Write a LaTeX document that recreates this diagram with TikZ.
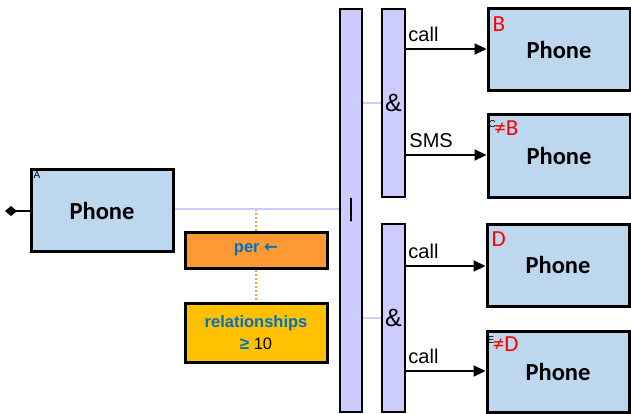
\documentclass[tikz,border=0pt]{standalone}
\usepackage{fontspec}
\setmainfont{Liberation Sans}
\newfontfamily\calfont{Carlito}
\newfontfamily\djfont{DejaVu Sans}
\usetikzlibrary{arrows.meta}
\definecolor{phonefill}{RGB}{189,215,238}
\definecolor{barfill}{RGB}{204,204,255}
\definecolor{perfill}{RGB}{255,153,51}
\definecolor{relfill}{RGB}{255,192,0}
\definecolor{txtblue}{RGB}{0,112,192}
\newcommand{\tinytag}[1]{{\rmfamily\fontsize{10}{10}\selectfont\color{black}\raisebox{8pt}{#1}}\hspace{-1.5pt}}
\tikzset{
  phonebox/.style={draw=black, line width=3pt, fill=phonefill, minimum width=142pt, minimum height=82pt, inner sep=0pt, font=\calfont\bfseries\fontsize{24.5}{26}\selectfont},
  barbox/.style={draw=black, line width=2.5pt, fill=barfill, minimum width=22pt, inner sep=0pt, font=\fontsize{25}{26}\selectfont},
  infobox/.style={draw=black, line width=3pt, minimum width=142pt, inner sep=0pt, align=center, text=txtblue, font=\bfseries\fontsize{16.5}{22}\selectfont},
  redlbl/.style={anchor=north west, inner sep=0pt, text=red, font=\calfont\fontsize{23}{23}\selectfont},
  smalllbl/.style={anchor=north west, inner sep=0pt, font=\fontsize{10}{10}\selectfont},
  conn/.style={draw=barfill, line width=2pt},
  flow/.style={draw=black, line width=2.2pt, -{Triangle[length=12pt,width=11pt]}},
  flowlbl/.style={anchor=south west, inner sep=0pt, font=\fontsize{20}{20}\selectfont},
  dots/.style={draw=perfill, line width=2pt, dash pattern=on 2pt off 2pt}
}
\begin{document}
\begin{tikzpicture}[x=1pt,y=-1pt]
\useasboundingbox (0,0) rectangle (631,414);
\node[barbox, minimum height=403pt] (bar) at (351,210.5) {|};
\node[barbox, minimum height=188pt, minimum width=23pt] (and1) at (393.5,103) {\&};
\node[barbox, minimum height=188pt, minimum width=23pt] (and2) at (393.5,318) {\&};
\node[phonebox, minimum height=81pt] (A) at (102,210.5) {Phone};
\node[phonebox] (B) at (559,50) {Phone};
\node[phonebox] (C) at (559,156) {Phone};
\node[phonebox] (D) at (558,265) {Phone};
\node[phonebox, minimum height=81pt] (E) at (558,371.5) {Phone};
\node[infobox, fill=perfill, minimum height=36pt] (per) at (256,250) {per {\djfont\bfseries ←}};
\node[infobox, fill=relfill, minimum height=59pt] (rel) at (256,332.5) {relationships\\{\fontsize{17}{22}\selectfont ≥} {\mdseries\color{black}10}};
% labels
\node[smalllbl] (la) at ([shift={(4,3)}]A.north west) {A};
\node[redlbl] (lb) at ([shift={(6,9)}]B.north west) {B};
\node[redlbl] (lcc) at ([shift={(2,7)}]C.north west) {\tinytag{C}≠B};
\node[redlbl] (ld) at ([shift={(6,9)}]D.north west) {D};
\node[redlbl] (lee) at ([shift={(2,7)}]E.north west) {\tinytag{E}≠D};
% connectors
\coordinate (dia) at (5,211);
\draw[line width=2.2pt, -{Diamond[length=12pt,width=10pt]}] (A.west |- dia) -- (dia);
\draw[conn] (A.east |- 0,209) -- (bar.west |- 0,209);
\draw[conn] (bar.east |- and1.west) -- (and1.west);
\draw[conn] (bar.east |- and2.west) -- (and2.west);
\draw[dots] (per.north) -- (per.north |- 0,210);
\draw[dots] (per.south) -- (rel.north);
\draw[flow] (and1.east |- 0,49) -- (B.west |- 0,49);
\node[flowlbl] (l1) at ([shift={(2,-7)}]and1.east |- 0,49) {call};
\draw[flow] (and1.east |- 0,155) -- (C.west |- 0,155);
\node[flowlbl] (l2) at ([shift={(3,-7)}]and1.east |- 0,155) {SMS};
\draw[flow] (and2.east |- 0,266) -- (D.west |- 0,266);
\node[flowlbl] (l3) at ([shift={(2,-7)}]and2.east |- 0,266) {call};
\draw[flow] (and2.east |- 0,371) -- (E.west |- 0,371);
\node[flowlbl] (l4) at ([shift={(2,-7)}]and2.east |- 0,371) {call};
\end{tikzpicture}
\end{document}
